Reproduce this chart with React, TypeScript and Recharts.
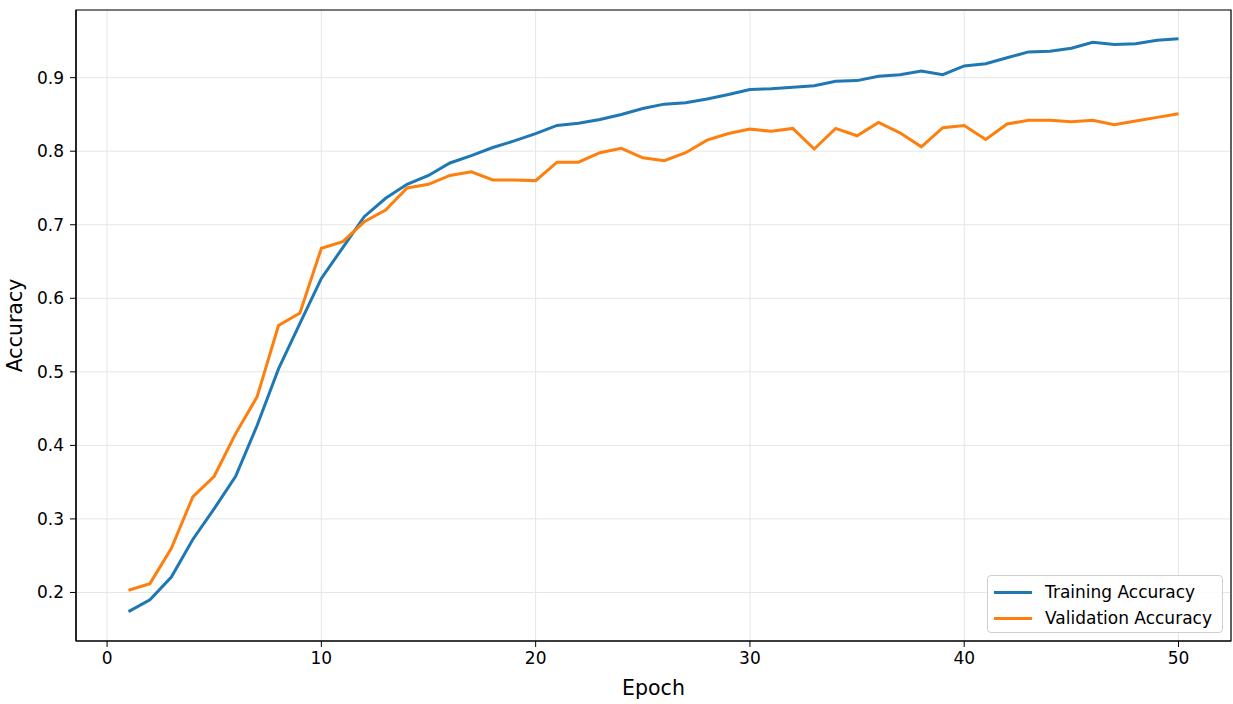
import { LineChart, Line, XAxis, YAxis, CartesianGrid, ReferenceArea } from 'recharts';

const epochs = Array.from({ length: 50 }, (_, i) => i + 1);

const trainAcc = [
  0.174, 0.19, 0.221, 0.272, 0.314, 0.358, 0.427, 0.504, 0.566, 0.627,
  0.669, 0.711, 0.736, 0.755, 0.767, 0.784, 0.794, 0.805, 0.814, 0.824,
  0.835, 0.838, 0.843, 0.85, 0.858, 0.864, 0.866, 0.871, 0.877, 0.884,
  0.885, 0.887, 0.889, 0.895, 0.896, 0.902, 0.904, 0.909, 0.904, 0.916,
  0.919, 0.927, 0.935, 0.936, 0.94, 0.948, 0.945, 0.946, 0.951, 0.953,
];

const valAcc = [
  0.203, 0.212, 0.26, 0.33, 0.358, 0.416, 0.466, 0.563, 0.58, 0.668,
  0.677, 0.704, 0.72, 0.75, 0.755, 0.767, 0.772, 0.761, 0.761, 0.76,
  0.785, 0.785, 0.798, 0.804, 0.791, 0.787, 0.798, 0.815, 0.824, 0.83,
  0.827, 0.831, 0.803, 0.831, 0.821, 0.839, 0.825, 0.806, 0.832, 0.835,
  0.816, 0.837, 0.842, 0.842, 0.84, 0.842, 0.836, 0.841, 0.846, 0.851,
];

const xTicks = [0, 10, 20, 30, 40, 50];
const yTicks = [0.2, 0.3, 0.4, 0.5, 0.6, 0.7, 0.8, 0.9];

const series = [
  { key: 'train', name: 'Training Accuracy', color: '#1f77b4' },
  { key: 'val', name: 'Validation Accuracy', color: '#ff7f0e' },
];

const data = epochs.map((e, i) => ({ epoch: e, train: trainAcc[i], val: valAcc[i] }));

const xDomain = [-1.45, 52.45];
const yDomain = [0.134, 0.992];

const font = '"DejaVu Sans", Verdana, sans-serif';
const tickStyle = { fill: '#000', fontSize: 17, fontFamily: font };

export default function App() {
  return (
    <div style={{ position: 'absolute', left: 0, top: 0, width: 1233, height: 704, background: '#fff' }}>
      <LineChart
        width={1233}
        height={704}
        data={data}
        margin={{ top: 10, right: 2, left: 10, bottom: 0 }}
      >
        <CartesianGrid stroke="#e6e6e6" strokeWidth={1} />
        <XAxis
          dataKey="epoch"
          type="number"
          domain={xDomain}
          allowDataOverflow
          ticks={xTicks}
          height={63}
          axisLine={{ stroke: '#000', strokeWidth: 1.2 }}
          tickLine={{ stroke: '#000' }}
          tickSize={6}
          tickMargin={5}
          tick={tickStyle}
          label={{ value: 'Epoch', position: 'insideBottom', offset: 9, style: { fill: '#000', fontSize: 20.5, fontFamily: font } }}
        />
        <YAxis
          type="number"
          domain={yDomain}
          allowDataOverflow
          ticks={yTicks}
          width={66}
          axisLine={{ stroke: '#000', strokeWidth: 1.2 }}
          tickLine={{ stroke: '#000' }}
          tickSize={6}
          tickMargin={6}
          tick={tickStyle}
          tickFormatter={(v: number) => v.toFixed(1)}
          label={{ value: 'Accuracy', angle: -90, position: 'insideLeft', offset: 5, style: { textAnchor: 'middle', fill: '#000', fontSize: 20.5, fontFamily: font } }}
        />
        {series.map((s) => (
          <Line
            key={s.key}
            dataKey={s.key}
            name={s.name}
            type="linear"
            stroke={s.color}
            strokeWidth={3}
            dot={false}
            isAnimationActive={false}
          />
        ))}
        <ReferenceArea
          x1={xDomain[0]}
          x2={xDomain[1]}
          y1={yDomain[0]}
          y2={yDomain[1]}
          fill="none"
          stroke="#000"
          strokeWidth={1.2}
          ifOverflow="visible"
        />
      </LineChart>
      <div
        style={{
          position: 'absolute',
          left: 987,
          top: 575,
          width: 236,
          height: 58,
          border: '1px solid #d0d0d0',
          borderRadius: 4,
          background: 'rgba(255,255,255,0.85)',
          fontFamily: font,
          fontSize: 17,
          color: '#000',
          boxSizing: 'border-box',
          padding: '3px 0 0 6px',
        }}
      >
        {series.map((s) => (
          <div key={s.key} style={{ display: 'flex', alignItems: 'center', height: 26 }}>
            <div style={{ width: 38, height: 3, background: s.color, marginRight: 13 }} />
            <span>{s.name}</span>
          </div>
        ))}
      </div>
    </div>
  );
}
